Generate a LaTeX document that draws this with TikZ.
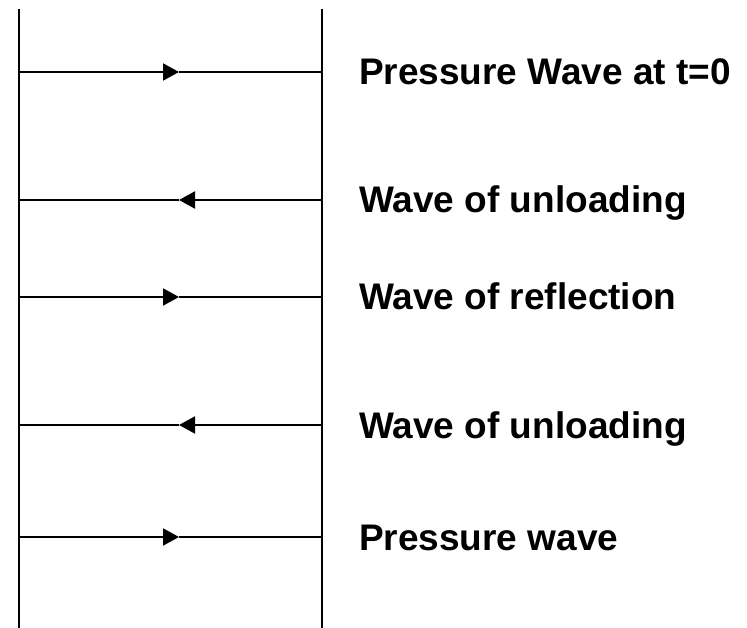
\documentclass[tikz,border=0pt]{standalone}
\usepackage{fontspec}
\setmainfont{Liberation Sans}
\usetikzlibrary{arrows.meta}
\begin{document}
\begin{tikzpicture}[x=1pt,y=-1pt,
  wall/.style={line width=2pt},
  ray/.style={line width=2pt},
  tipped/.style={ray,-{Triangle[length=16pt,width=17pt]}},
  caption/.style={anchor=base west,inner sep=0pt,font=\fontsize{37}{41}\selectfont\bfseries}]
\useasboundingbox (0,0) rectangle (747,628);
% side walls
\coordinate (LT) at (19,9);
\coordinate (LB) at (19,628);
\coordinate (RT) at (322,9);
\coordinate (RB) at (322,628);
\draw[wall] (LT) -- (LB);
\draw[wall] (RT) -- (RB);
% wave fronts: left end, arrow tip, right end
\foreach \i/\y in {1/72,2/200,3/297,4/425,5/537}{
  \coordinate (L\i) at (19,\y);
  \coordinate (M\i) at (179,\y);
  \coordinate (R\i) at (322,\y);
}
% rightward waves
\foreach \i in {1,3,5}{
  \draw[tipped] (L\i) -- (M\i);
  \draw[ray] (M\i) -- (R\i);
}
% leftward waves
\foreach \i in {2,4}{
  \draw[tipped] (R\i) -- (M\i);
  \draw[ray] (M\i) -- (L\i);
}
% captions
\node[caption] (c1) at (359,85) {Pressure Wave at t=0};
\node[caption] (c2) at (359,213) {Wave of unloading};
\node[caption] (c3) at (359,310) {Wave of reflection};
\node[caption] (c4) at (359,438) {Wave of unloading};
\node[caption] (c5) at (359,550) {Pressure wave};
\end{tikzpicture}
\end{document}
